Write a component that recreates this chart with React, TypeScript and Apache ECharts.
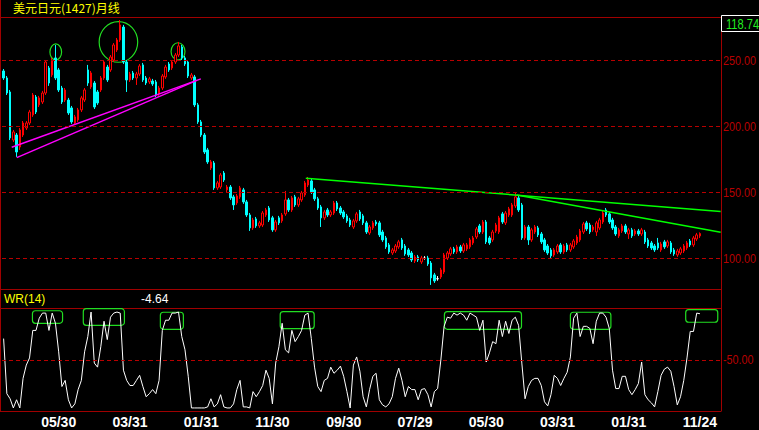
import React, { useEffect, useRef } from 'react';
import * as echarts from 'echarts';

// [open, close, low, high] per monthly candle
const candles: number[][] = [
  [241.9, 236.6, 235.1, 243.4], [236.6, 225.2, 223.7, 238.1], [226.0, 191.2, 189.6, 227.5], [189.6, 195.7, 188.1, 197.2],
  [193.4, 180.5, 176.8, 194.9], [184.3, 197.2, 182.1, 198.7], [193.4, 202.5, 191.9, 204.0], [198.7, 202.5, 197.2, 204.0],
  [202.5, 210.8, 201.0, 212.4], [208.6, 223.7, 207.1, 225.2], [222.2, 210.8, 209.3, 223.7], [216.2, 221.5, 214.6, 223.0],
  [218.4, 225.2, 216.9, 226.8], [225.2, 248.7, 223.7, 250.2], [244.2, 232.8, 230.6, 245.7], [238.9, 250.2, 237.4, 251.8],
  [251.8, 236.6, 235.1, 261.6], [242.7, 227.5, 226.0, 244.2], [229.0, 218.4, 216.9, 230.6], [219.9, 227.5, 218.4, 229.0],
  [219.9, 210.1, 208.6, 221.5], [213.9, 203.3, 201.8, 215.4], [202.5, 207.1, 201.0, 208.6], [204.8, 212.4, 203.3, 213.9],
  [212.4, 221.5, 210.8, 223.0], [219.9, 227.5, 218.4, 229.0], [242.7, 232.8, 230.6, 246.5], [229.8, 240.4, 228.3, 241.9],
  [232.8, 214.6, 213.1, 234.3], [226.0, 217.7, 216.2, 227.5], [227.5, 236.6, 226.0, 238.1], [236.6, 248.7, 235.1, 250.2],
  [244.9, 235.1, 233.6, 246.5], [242.7, 252.5, 241.2, 254.0], [250.2, 261.6, 248.7, 263.1], [257.8, 265.4, 256.3, 266.9],
  [265.4, 276.8, 263.9, 280.5], [275.2, 248.7, 247.2, 276.8], [248.7, 235.1, 226.0, 250.2], [235.1, 239.6, 233.6, 241.2],
  [240.4, 236.6, 235.1, 241.9], [236.6, 239.6, 231.3, 241.2], [239.6, 245.7, 238.1, 247.2], [246.5, 235.1, 233.6, 248.0],
  [236.6, 232.8, 231.3, 238.1], [233.6, 235.9, 232.1, 237.4], [234.3, 232.1, 230.6, 235.9], [233.6, 223.7, 222.2, 235.1],
  [224.5, 229.0, 223.0, 230.6], [229.0, 238.1, 227.5, 239.6], [237.4, 244.9, 235.9, 246.5], [247.2, 242.7, 241.2, 248.7],
  [244.2, 248.7, 242.7, 250.2], [248.7, 254.0, 247.2, 255.5], [254.0, 260.9, 252.5, 263.9], [260.1, 251.8, 250.2, 261.6],
  [251.8, 247.2, 245.7, 253.3], [248.7, 238.1, 236.6, 250.2], [236.6, 238.9, 235.1, 240.4], [237.4, 216.2, 214.6, 238.9],
  [216.2, 203.3, 201.8, 217.7], [203.3, 193.4, 191.9, 204.8], [193.4, 180.5, 179.0, 194.9], [182.1, 173.0, 171.5, 183.6],
  [168.4, 173.0, 166.9, 174.5], [172.2, 153.3, 151.8, 173.7], [153.3, 157.1, 151.8, 158.6], [154.0, 163.1, 152.5, 164.6],
  [164.6, 159.3, 157.8, 166.1], [151.8, 154.0, 150.2, 155.5], [154.0, 145.7, 144.2, 155.5], [146.5, 140.4, 136.6, 148.0],
  [141.9, 147.2, 140.4, 148.7], [146.5, 153.3, 145.0, 154.8], [151.8, 142.7, 141.2, 153.3], [142.7, 132.8, 131.3, 144.2],
  [132.8, 123.0, 120.7, 134.3], [123.0, 129.0, 121.5, 130.6], [129.8, 124.5, 123.0, 131.3], [124.5, 126.8, 123.0, 128.3],
  [125.2, 134.3, 123.7, 135.8], [132.8, 136.6, 131.3, 138.1], [138.1, 129.0, 127.5, 139.6], [130.6, 121.5, 120.0, 132.1],
  [121.5, 127.5, 120.0, 129.0], [130.6, 126.8, 125.2, 132.1], [128.3, 132.8, 126.8, 134.3], [133.6, 144.2, 132.1, 151.0],
  [144.2, 136.6, 135.1, 145.7], [136.6, 145.7, 135.1, 147.2], [146.5, 140.4, 138.9, 148.0], [140.4, 145.0, 138.9, 146.5],
  [144.2, 149.5, 142.7, 151.0], [148.0, 157.1, 146.5, 158.6], [155.5, 159.3, 154.0, 161.6], [158.6, 150.2, 148.7, 160.1],
  [151.8, 145.0, 143.4, 153.3], [145.0, 138.1, 136.6, 146.5], [138.9, 130.6, 123.7, 140.4], [130.6, 135.1, 129.0, 136.6],
  [136.6, 132.8, 131.3, 138.1], [132.8, 135.1, 131.3, 136.6], [134.3, 141.9, 132.8, 143.4], [141.9, 137.4, 135.8, 143.4],
  [138.1, 134.3, 132.8, 139.6], [135.1, 131.3, 129.8, 136.6], [132.1, 128.3, 126.8, 133.6], [129.0, 125.2, 123.7, 130.6],
  [123.7, 128.3, 122.2, 129.8], [128.3, 133.6, 126.8, 135.1], [135.1, 129.8, 128.3, 136.6], [132.1, 126.8, 125.2, 133.6],
  [126.8, 119.9, 118.4, 128.3], [119.2, 123.7, 117.7, 125.2], [123.0, 126.8, 121.5, 128.3], [127.5, 126.0, 124.5, 129.0],
  [126.8, 117.7, 116.1, 128.3], [119.9, 113.9, 112.4, 121.5], [115.4, 108.6, 107.1, 116.9], [110.1, 104.8, 103.3, 111.6],
  [104.0, 106.3, 102.5, 107.8], [105.5, 109.3, 104.0, 110.8], [108.6, 112.4, 107.1, 113.9], [113.9, 107.8, 106.3, 115.4],
  [109.3, 103.3, 101.8, 110.8], [106.3, 102.5, 101.0, 107.8], [104.0, 98.7, 97.2, 105.5], [97.9, 101.0, 96.4, 102.5],
  [101.0, 98.7, 97.2, 102.5], [97.2, 100.2, 95.7, 101.8], [100.0, 100.0, 98.9, 101.6], [100.2, 95.7, 94.2, 101.8],
  [96.4, 85.1, 79.8, 97.9], [87.4, 82.8, 81.3, 88.9], [84.5, 84.5, 83.0, 86.5], [85.8, 91.2, 84.3, 92.7],
  [89.6, 102.5, 88.1, 104.0], [100.2, 104.0, 98.7, 105.5], [103.3, 107.1, 101.8, 108.6], [107.1, 104.8, 103.3, 108.6],
  [104.8, 108.6, 103.3, 110.1], [108.6, 105.5, 104.0, 110.1], [105.5, 110.1, 104.0, 111.6], [107.1, 110.1, 105.5, 111.6],
  [108.6, 113.9, 107.1, 115.4], [111.6, 115.4, 110.1, 116.9], [116.1, 122.2, 114.6, 123.7], [124.5, 119.9, 118.4, 126.0],
  [119.9, 127.5, 118.4, 129.0], [127.5, 112.4, 110.8, 129.0], [115.4, 111.6, 110.1, 116.9], [113.9, 119.9, 112.4, 121.5],
  [120.7, 125.2, 119.2, 126.8], [119.9, 130.6, 118.4, 132.1], [133.6, 127.5, 126.0, 135.1], [126.8, 134.3, 125.2, 135.8],
  [132.8, 137.4, 131.3, 138.9], [132.8, 140.4, 131.3, 141.9], [139.6, 146.5, 138.1, 149.5], [145.7, 136.6, 135.1, 147.2],
  [140.4, 115.4, 113.9, 141.9], [115.4, 123.7, 113.9, 125.2], [123.7, 113.9, 110.1, 125.2], [113.9, 121.5, 112.4, 123.0],
  [119.9, 123.7, 118.4, 125.2], [123.0, 117.7, 116.1, 124.5], [118.4, 112.4, 110.8, 119.9], [113.9, 106.3, 104.8, 115.4],
  [109.3, 104.0, 102.5, 110.8], [106.3, 101.8, 100.2, 107.8], [102.5, 106.3, 101.0, 107.8], [104.8, 109.3, 103.3, 110.8],
  [110.1, 104.8, 103.3, 111.6], [104.8, 109.3, 103.3, 110.8], [110.1, 106.3, 104.8, 111.6], [106.3, 110.1, 104.8, 111.6],
  [108.6, 113.1, 107.1, 114.6], [111.6, 116.1, 110.1, 117.7], [113.9, 120.7, 112.4, 122.2], [119.9, 126.0, 118.4, 127.5],
  [126.8, 122.2, 120.7, 128.3], [125.2, 119.9, 118.4, 126.8], [121.5, 123.7, 120.0, 125.2], [119.9, 126.8, 116.9, 128.3],
  [123.0, 129.0, 121.5, 130.6], [127.5, 134.3, 126.0, 135.8], [136.6, 132.8, 131.3, 138.1], [133.6, 127.5, 126.0, 135.1],
  [129.0, 123.0, 121.5, 130.6], [123.7, 118.4, 116.9, 125.2], [116.9, 121.5, 115.4, 123.0], [120.7, 124.5, 119.2, 126.0],
  [124.5, 119.9, 118.4, 126.0], [118.4, 121.5, 114.6, 123.0], [121.5, 116.9, 115.4, 123.0], [118.4, 120.7, 116.9, 122.2],
  [120.7, 118.4, 116.9, 122.2], [118.4, 121.5, 116.9, 123.0], [119.9, 112.4, 110.8, 121.5], [113.9, 109.3, 107.8, 115.4],
  [111.6, 107.8, 106.3, 113.1], [109.3, 106.3, 104.8, 110.8], [111.6, 107.8, 106.3, 115.4], [106.3, 110.8, 104.8, 112.4],
  [112.4, 108.6, 107.1, 113.9], [109.3, 112.4, 107.8, 113.9], [111.6, 104.8, 103.3, 113.1], [106.3, 103.3, 101.8, 107.8],
  [102.5, 105.5, 101.0, 107.1], [104.0, 107.1, 102.5, 108.6], [105.5, 109.3, 104.0, 110.8], [107.8, 111.6, 106.3, 113.1],
  [113.1, 110.1, 108.6, 114.6], [110.1, 115.4, 108.6, 116.9], [114.6, 117.7, 113.1, 119.2], [116.9, 118.74, 115.4, 119.6],
];

// Williams %R (14)
const wr14: number[] = [
  -29, -83, -88, -97, -89, -97, -68, -55, -48, -21, -21, -9, -4, -4, -21, -4, -14, -42, -76, -70,
  -89, -97, -93, -79, -70, -42, -27, -3, -53, -57, -37, -12, -30, -8, -4, -3, -4, -60, -70, -75,
  -75, -70, -65, -76, -86, -83, -79, -83, -70, -21, -11, -11, -4, -4, -3, -27, -40, -66, -97, -97,
  -97, -97, -97, -96, -88, -96, -93, -84, -96, -97, -97, -93, -79, -70, -96, -96, -97, -81, -86, -81,
  -75, -60, -68, -93, -53, -37, -14, -40, -43, -21, -32, -27, -21, -6, -4, -29, -57, -76, -81, -70,
  -68, -57, -63, -60, -56, -66, -81, -97, -55, -47, -61, -86, -96, -79, -66, -63, -89, -94, -96, -93,
  -86, -68, -58, -70, -86, -76, -79, -79, -89, -79, -78, -84, -96, -81, -78, -50, -17, -8, -9, -4,
  -6, -4, -6, -11, -4, -6, -8, -21, -11, -52, -43, -32, -34, -11, -27, -12, -24, -11, -8, -16,
  -53, -88, -76, -70, -68, -68, -75, -91, -95, -84, -65, -68, -75, -68, -62, -47, -9, -4, -27, -17,
  -17, -19, -34, -12, -4, -4, -8, -19, -60, -78, -78, -66, -66, -79, -84, -79, -73, -52, -84, -89,
  -92, -96, -81, -65, -59, -57, -61, -76, -94, -86, -70, -48, -22, -22, -4, -4.64,
];

const tickIndex = [17, 39, 61, 83, 105, 127, 149, 171, 193, 215];
const tickLabels = ['05/30', '03/31', '01/31', '11/30', '09/30', '07/29', '05/30', '03/31', '01/31', '11/24'];
const priceLevels = [100, 150, 200, 250];
const wrLevels = [-50];

// trend lines: [[candleIndex, price], [candleIndex, price]]
const supportLines = [
  [[2.5, 184.1], [60.9, 235.9]],
  [[4.05, 176.2], [59.5, 234.6]],
];
const resistLines = [
  [[93.3, 160.6], [221.4, 135.5]],
  [[158.4, 148.0], [221.4, 119.7]],
];
// peak circles: [fromIndex, toIndex, lowPrice, highPrice]
const peakCircles = [
  [14.3, 17.9, 250.2, 262.4],
  [29.5, 41.4, 248.5, 279.3],
  [51.7, 56.0, 250.2, 263.3],
];
// overbought boxes on WR: [fromIndex, toIndex, lowWR, highWR]
const wrBoxes = [
  [8.9, 18.2, -14.0, -1.7],
  [24.6, 37.3, -16.0, 0.3],
  [48.4, 55.5, -19.9, -3.2],
  [85.4, 95.9, -19.3, -2.6],
  [136.1, 159.9, -19.9, -2.6],
  [175.0, 187.5, -19.9, -3.2],
  [210.6, 220.5, -13.0, -0.7],
];

const TITLE = '美元日元(1427)月线';
const TOTAL_SLOTS = 222;
const PRICE_MIN = 76.7;
const PRICE_MAX = 282.8;

const SANS = "'Liberation Sans', Arial, sans-serif";
const FRAME = '#a00000';
const GRIDRED = '#b80000';

export default function App() {
  const ref = useRef<HTMLDivElement>(null);
  useEffect(() => {
    document.body.style.margin = '0';
    document.body.style.background = '#000';
    if (!ref.current) return;
    const chart = echarts.init(ref.current, undefined, { renderer: 'svg' });
    const cats = Array.from({ length: TOTAL_SLOTS }, (_, i) => String(i));
    const labelMap = new Map<number, string>(tickIndex.map((v, k) => [v, tickLabels[k]]));
    const lastClose = candles[candles.length - 1][1];
    const lastWr = wr14[wr14.length - 1];

    const boxRender = (stroke: string, kind: 'rect' | 'ellipse') => (params: any, api: any) => {
      const a = api.coord([api.value(0), api.value(3)]);
      const b = api.coord([api.value(1), api.value(2)]);
      const x = Math.min(a[0], b[0]);
      const y = Math.min(a[1], b[1]);
      const w = Math.abs(b[0] - a[0]);
      const h = Math.abs(b[1] - a[1]);
      if (kind === 'rect') {
        return { type: 'rect', shape: { x, y, width: w, height: h, r: 3 }, style: { fill: 'none', stroke, lineWidth: 1.2 } };
      }
      return { type: 'ellipse', shape: { cx: x + w / 2, cy: y + h / 2, rx: w / 2, ry: h / 2 }, style: { fill: 'none', stroke, lineWidth: 1.2 } };
    };

    const trendSeries = (lines: number[][][], color: string, width: number) =>
      lines.map((ln) => ({
        type: 'line',
        xAxisIndex: 1,
        yAxisIndex: 0,
        data: ln,
        symbol: 'none',
        silent: true,
        lineStyle: { color, width },
      }));

    const levelLine = (levels: number[]) => ({
      silent: true, symbol: ['none', 'none'],
      lineStyle: { color: GRIDRED, type: [4, 3], width: 1 },
      label: { show: false },
      data: levels.map((v) => ({ yAxis: v })),
    });

    const option: any = {
      backgroundColor: '#000',
      animation: false,
      grid: [
        { left: 2, right: 38, top: 17, height: 272, show: false },
        { left: 2, right: 38, top: 309, height: 102, show: false },
      ],
      xAxis: [
        { type: 'category', gridIndex: 0, data: cats, boundaryGap: true, show: false },
        { type: 'value', gridIndex: 0, min: -0.5, max: TOTAL_SLOTS - 0.5, show: false },
        {
          type: 'category', gridIndex: 1, data: cats, boundaryGap: true,
          axisLine: { show: false }, axisTick: { show: false }, splitLine: { show: false },
          axisLabel: {
            interval: (idx: number) => labelMap.has(idx),
            formatter: (v: string) => labelMap.get(Number(v)) ?? '',
            color: '#ffffff', fontWeight: 'bold', fontSize: 14, fontFamily: SANS, margin: 4,
          },
        },
        { type: 'value', gridIndex: 1, min: -0.5, max: TOTAL_SLOTS - 0.5, show: false },
      ],
      yAxis: [
        { type: 'value', gridIndex: 0, min: PRICE_MIN, max: PRICE_MAX, show: false },
        { type: 'value', gridIndex: 1, min: -100, max: 0, show: false },
      ],
      series: [
        {
          type: 'candlestick',
          xAxisIndex: 0,
          yAxisIndex: 0,
          data: candles,
          barWidth: 2,
          itemStyle: {
            color: '#000000', color0: '#00ffff',
            borderColor: '#ff0000', borderColor0: '#00ffff', borderColorDoji: '#ffffff', borderWidth: 1,
          },
          markLine: levelLine(priceLevels),
        },
        ...trendSeries(supportLines, '#ff00ff', 1.5),
        ...trendSeries(resistLines, '#00ff00', 1.5),
        {
          type: 'custom', xAxisIndex: 1, yAxisIndex: 0, silent: true, clip: false,
          data: peakCircles, renderItem: boxRender('#22dd22', 'ellipse'),
        },
        {
          type: 'line', xAxisIndex: 2, yAxisIndex: 1, data: wr14, symbol: 'none', silent: true,
          lineStyle: { color: '#ffffff', width: 1 },
          markLine: levelLine(wrLevels),
        },
        {
          type: 'custom', xAxisIndex: 3, yAxisIndex: 1, silent: true, clip: false,
          data: wrBoxes, renderItem: boxRender('#22dd22', 'rect'),
        },
      ],
    };
    chart.setOption(option);

    // right-hand scale labels, placed through the axes
    const axisText = (value: number, yAxisIndex: number) => {
      const py = chart.convertToPixel({ yAxisIndex }, value) as number;
      return {
        type: 'text', x: 723, y: py, scaleX: 0.83,
        style: { text: value.toFixed(2), fill: GRIDRED, fontSize: 13, fontFamily: SANS, verticalAlign: 'middle', align: 'left' },
      };
    };

    const graphic: any[] = [
      { type: 'line', shape: { x1: 0, y1: 17.5, x2: 721, y2: 17.5 }, style: { stroke: FRAME, lineWidth: 1 } },
      { type: 'line', shape: { x1: 0, y1: 289.5, x2: 721, y2: 289.5 }, style: { stroke: FRAME, lineWidth: 1 } },
      { type: 'line', shape: { x1: 0, y1: 308.5, x2: 721, y2: 308.5 }, style: { stroke: FRAME, lineWidth: 1 } },
      { type: 'line', shape: { x1: 0, y1: 411.5, x2: 721, y2: 411.5 }, style: { stroke: FRAME, lineWidth: 1 } },
      { type: 'line', shape: { x1: 0.5, y1: 0, x2: 0.5, y2: 411.5 }, style: { stroke: FRAME, lineWidth: 1 } },
      { type: 'line', shape: { x1: 721.5, y1: 17, x2: 721.5, y2: 411.5 }, style: { stroke: FRAME, lineWidth: 1 } },
      { type: 'rect', shape: { x: 721.5, y: 15.5, width: 42, height: 16 }, style: { fill: '#000', stroke: '#ffffff', lineWidth: 1 } },
      {
        type: 'text', x: 726, y: 23.5, scaleX: 0.74,
        style: { text: lastClose.toFixed(2), fill: '#22ee22', fontSize: 15, fontFamily: SANS, verticalAlign: 'middle', align: 'left' },
      },
      {
        type: 'text', x: 13, y: 1,
        style: { text: TITLE, fill: '#ffff00', fontSize: 12, fontFamily: "'Noto Sans CJK SC', sans-serif", verticalAlign: 'top', align: 'left' },
      },
      {
        type: 'text', x: 4, y: 298.5,
        style: { text: 'WR(14)', fill: '#ffff00', fontSize: 12, fontFamily: SANS, verticalAlign: 'middle', align: 'left' },
      },
      {
        type: 'text', x: 141, y: 298.5,
        style: { text: lastWr.toFixed(2), fill: '#ffffff', fontSize: 12, fontFamily: SANS, verticalAlign: 'middle', align: 'left' },
      },
      ...priceLevels.map((v) => axisText(v, 0)),
      ...wrLevels.map((v) => axisText(v, 1)),
    ];
    chart.setOption({ graphic });
    return () => chart.dispose();
  }, []);
  return <div ref={ref} style={{ position: 'fixed', left: 0, top: 0, width: 759, height: 430, background: '#000' }} />;
}
